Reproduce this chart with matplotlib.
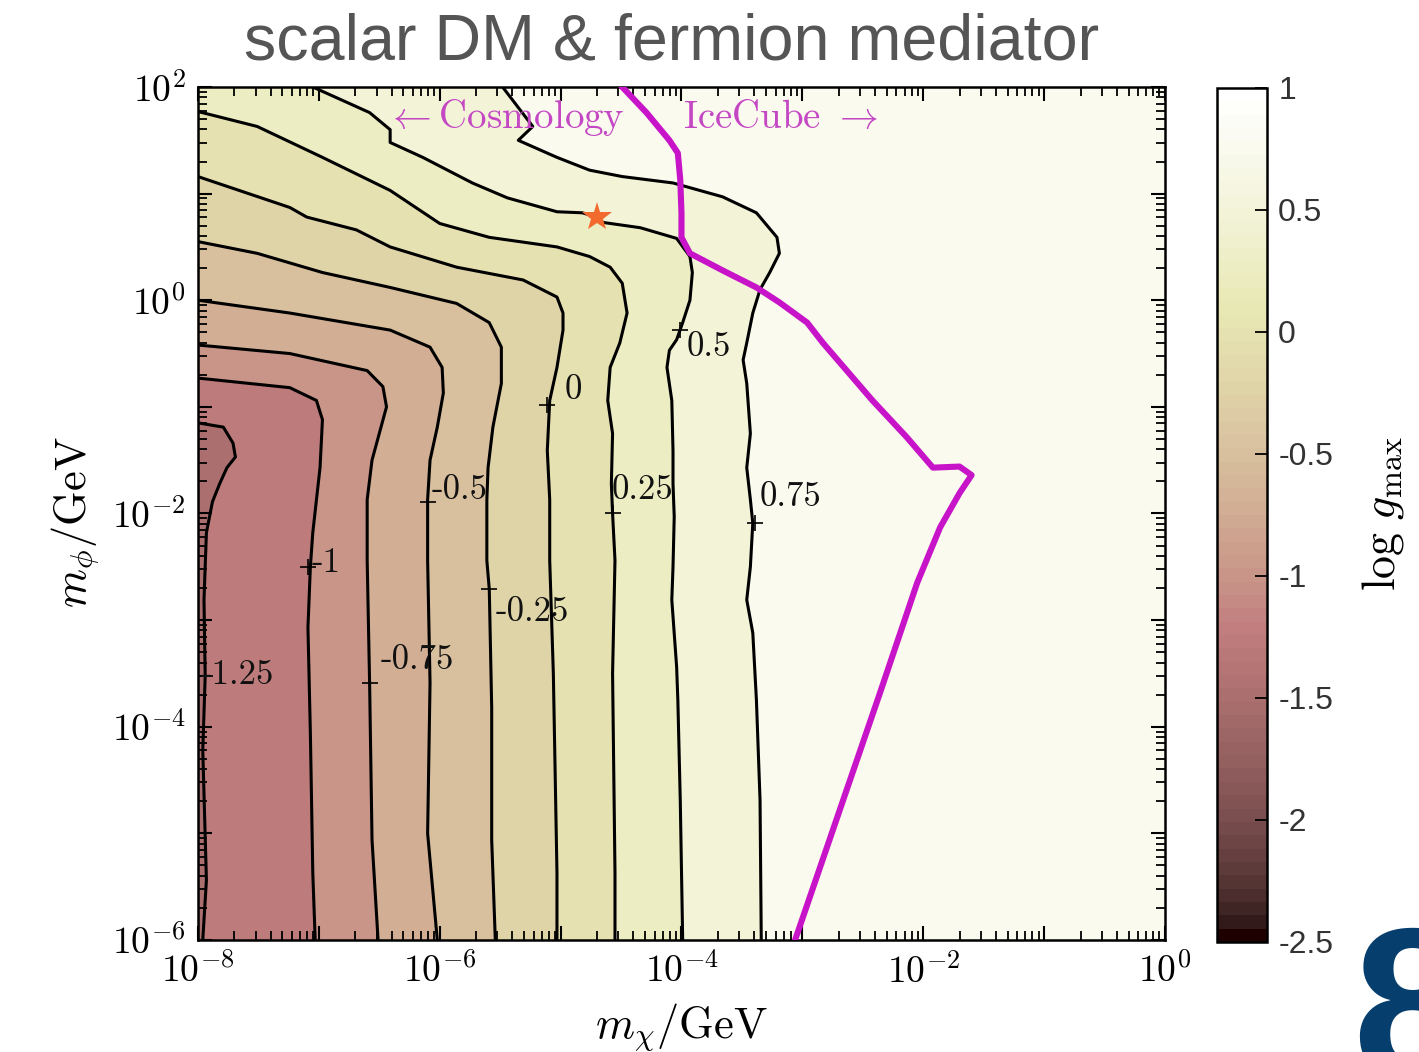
import numpy as np
import matplotlib
matplotlib.use("Agg")
import matplotlib.pyplot as plt
from matplotlib.colors import Normalize
from matplotlib.ticker import FixedLocator, FuncFormatter, NullFormatter
import matplotlib.cm as cm

plt.rcParams['mathtext.fontset'] = 'cm'

# contour levels of log g_max, traced paths in (log10 m_chi, log10 m_phi)
levels = [0.75, 0.5, 0.25, 0.0, -0.25, -0.5, -0.75, -1.0, -1.25]

c075_x = [-5.48, -5.23, -5.35, -5.03, -4.76, -4.49, -4.07, -3.66, -3.38, -3.21, -3.19, -3.27,
          -3.35, -3.41, -3.46, -3.49, -3.46, -3.43, -3.46, -3.43, -3.41, -3.43, -3.46, -3.41,
          -3.38, -3.35, -3.34]
c075_y = [2.0, 1.63, 1.50, 1.34, 1.22, 1.16, 1.10, 0.97, 0.82, 0.59, 0.44, 0.26,
          0.10, -0.12, -0.40, -0.56, -0.78, -1.25, -1.57, -1.87, -2.09, -2.50, -2.81, -3.12,
          -3.75, -4.69, -6.0]

c050_x = [-7.05, -6.58, -6.41, -6.41, -6.14, -5.73, -5.44, -5.03, -4.82, -4.70, -4.65, -4.34,
          -4.04, -3.93, -3.91, -3.93, -3.99, -4.04, -4.10, -4.12, -4.08, -4.07, -4.07, -4.06,
          -4.07, -4.08, -4.04, -4.03, -4.01, -3.99]
c050_y = [2.0, 1.76, 1.60, 1.48, 1.34, 1.10, 0.96, 0.83, 0.82, 0.78, 0.73, 0.68,
          0.58, 0.41, 0.26, 0.00, -0.21, -0.37, -0.47, -0.63, -0.94, -1.41, -1.72, -2.03,
          -2.50, -2.81, -3.44, -3.75, -4.69, -6.0]

c025_x = [-8.0, -7.51, -6.97, -6.41, -6.00, -5.59, -5.03, -4.76, -4.59, -4.49, -4.45, -4.51,
          -4.59, -4.61, -4.57, -4.58, -4.57, -4.55, -4.57, -4.55, -4.55]
c025_y = [1.77, 1.63, 1.34, 1.03, 0.72, 0.59, 0.50, 0.41, 0.31, 0.16, -0.12, -0.40,
          -0.63, -0.94, -1.25, -1.72, -2.00, -2.44, -3.50, -5.37, -6.0]

c000_x = [-8.0, -7.24, -7.10, -6.69, -6.41, -5.86, -5.31, -5.03, -4.98, -4.98, -5.03, -5.09,
          -5.11, -5.09, -5.09, -5.06, -5.03, -5.03]
c000_y = [1.16, 0.87, 0.78, 0.66, 0.50, 0.31, 0.19, 0.03, -0.12, -0.28, -0.63, -0.94,
          -1.41, -1.87, -2.44, -3.50, -5.37, -6.0]

cm025_x = [-8.0, -7.51, -6.97, -6.41, -5.86, -5.59, -5.49, -5.49, -5.56, -5.60, -5.61, -5.61,
           -5.59, -5.57, -5.57, -5.54]
cm025_y = [0.55, 0.44, 0.26, 0.12, -0.03, -0.21, -0.44, -0.78, -1.19, -1.57, -1.87, -2.44,
           -2.71, -3.82, -5.06, -6.0]

cm050_x = [-8.0, -7.24, -6.41, -6.08, -5.98, -5.97, -6.02, -6.08, -6.10, -6.10, -6.08, -6.10, -6.02]
cm050_y = [0.0, -0.12, -0.28, -0.44, -0.63, -0.87, -1.19, -1.50, -1.87, -2.44, -3.59, -5.00, -6.0]

cm075_x = [-8.0, -7.24, -6.60, -6.47, -6.44, -6.50, -6.56, -6.60, -6.60, -6.58, -6.56, -6.51]
cm075_y = [-0.42, -0.50, -0.66, -0.81, -1.00, -1.25, -1.50, -1.87, -2.44, -3.59, -5.06, -6.0]

cm100_x = [-8.0, -7.24, -7.02, -6.97, -6.99, -7.05, -7.07, -7.09, -7.07, -7.05, -7.03]
cm100_y = [-0.73, -0.82, -0.94, -1.12, -1.57, -2.18, -2.50, -3.07, -4.06, -5.37, -6.0]

cm125_x = [-8.0, -7.79, -7.71, -7.69, -7.76, -7.82, -7.88, -7.93, -7.95, -7.94, -7.96, -7.93, -7.96]
cm125_y = [-1.15, -1.19, -1.34, -1.47, -1.57, -1.72, -1.89, -2.18, -2.81, -3.52, -4.22, -5.44, -6.0]

paths = [(c075_x, c075_y), (c050_x, c050_y), (c025_x, c025_y), (c000_x, c000_y),
         (cm025_x, cm025_y), (cm050_x, cm050_y), (cm075_x, cm075_y), (cm100_x, cm100_y),
         (cm125_x, cm125_y)]

# IceCube / cosmology boundary
icecube_x = [-4.49, -4.29, -4.10, -4.03, -4.01, -4.00, -4.00, -3.93, -3.66, -3.38, -3.19, -2.96,
             -2.83, -2.42, -2.14, -1.92, -1.70, -1.60, -1.70, -1.86, -2.05, -2.19, -2.36, -3.06]
icecube_y = [2.0, 1.76, 1.50, 1.38, 1.13, 0.82, 0.59, 0.44, 0.28, 0.12, -0.02, -0.21,
             -0.40, -0.94, -1.28, -1.57, -1.56, -1.64, -1.81, -2.13, -2.65, -3.12, -3.69, -6.0]

# benchmark point
star_x, star_y = -4.70, 0.78

# inline contour labels
label_text = ['0.5', '0', '-0.5', '0.25', '0.75', '-1', '-0.25', '-0.75', '-1.25']
label_mark_x = [-4.01, -5.11, -6.10, -4.57, -3.39, -7.09, -5.59, -6.58, -7.94]
label_mark_y = [-0.28, -0.98, -1.89, -2.00, -2.09, -2.50, -2.71, -3.59, -3.52]
label_x = [-3.96, -4.97, -6.07, -4.58, -3.35, -7.06, -5.54, -6.49, -7.98]
label_y = [-0.44, -0.84, -1.78, -1.78, -1.85, -2.47, -2.93, -3.38, -3.52]

cbar_ticks = [1, 0.5, 0, -0.5, -1, -1.5, -2, -2.5]
cbar_labels = ['1', '0.5', '0', '-0.5', '-1', '-1.5', '-2', '-2.5']

cmap = plt.get_cmap('pink', 64)
norm = Normalize(vmin=-2.5, vmax=1.0)

fig = plt.figure(figsize=(14.19, 10.52), dpi=100)
ax = fig.add_axes([0.1395, 0.1065, 0.6815, 0.8108])
cax = fig.add_axes([0.8577, 0.1046, 0.0352, 0.8118])

ax.set_xscale('log')
ax.set_yscale('log')
ax.set_axisbelow(False)

# filled bands, painted from the outermost level inwards
ax.set_facecolor(cmap(norm(levels[0])))
for lev, (lx, ly) in zip(levels, paths):
    px = list(lx) + [-8.0, -8.0]
    py = list(ly) + [-6.0, ly[0]]
    ax.fill(10.0 ** np.array(px), 10.0 ** np.array(py), color=cmap(norm(lev - 0.25)),
            lw=0, zorder=1)
for lx, ly in paths:
    ax.plot(10.0 ** np.array(lx), 10.0 ** np.array(ly), color='black', lw=2.2,
            solid_joinstyle='round', zorder=2)

for t, mx, my, tx, ty in zip(label_text, label_mark_x, label_mark_y, label_x, label_y):
    ax.plot(10.0 ** mx, 10.0 ** my, marker='+', color='black', ms=11, mew=1.2, zorder=3)
    ax.text(10.0 ** tx, 10.0 ** ty, t, family='cmr10', fontsize=25, ha='left', va='center',
            color='#111111', zorder=3)

ax.plot(10.0 ** np.array(icecube_x), 10.0 ** np.array(icecube_y), color='#c814c8', lw=4.4,
        solid_joinstyle='round', zorder=4)
ax.plot(10.0 ** star_x, 10.0 ** star_y, marker='*', color='#f26a2e', ms=22, mew=0, zorder=5)

ax.text(10.0 ** -4.47, 10.0 ** 1.71, r'${\leftarrow}$Cosmology', family='cmr10', fontsize=28,
        color='#c447c4', ha='right', va='center', zorder=5)
ax.text(10.0 ** -3.99, 10.0 ** 1.71, r'IceCube ${\rightarrow}$', family='cmr10', fontsize=28,
        color='#c447c4', ha='left', va='center', zorder=5)

ax.set_xlim(1e-8, 1)
ax.set_ylim(1e-6, 1e2)

def even_decade(v, pos):
    e = int(round(np.log10(v)))
    return r'$10^{%d}$' % e if e % 2 == 0 else ''

x_decades = list(range(-8, 1))
y_decades = list(range(-6, 3))
mantissas = (2, 3, 4, 5, 6, 7, 8, 9)
ax.xaxis.set_major_locator(FixedLocator([10.0 ** k for k in x_decades]))
ax.yaxis.set_major_locator(FixedLocator([10.0 ** k for k in y_decades]))
ax.xaxis.set_minor_locator(FixedLocator([m * 10.0 ** k for k in x_decades[:-1] for m in mantissas]))
ax.yaxis.set_minor_locator(FixedLocator([m * 10.0 ** k for k in y_decades[:-1] for m in mantissas]))
for axis in (ax.xaxis, ax.yaxis):
    axis.set_major_formatter(FuncFormatter(even_decade))
    axis.set_minor_formatter(NullFormatter())

ax.tick_params(which='both', direction='in', top=True, right=True, color='black')
ax.tick_params(which='major', length=10, width=1.5, labelsize=27)
ax.tick_params(which='minor', length=6.5, width=1.3)
ax.tick_params(axis='x', which='major', pad=10)
ax.tick_params(axis='y', which='major', pad=9)
for sp in ax.spines.values():
    sp.set_linewidth(1.8)

ax.set_xlabel(r'$m_\chi/\mathrm{GeV}$', fontsize=32)
ax.xaxis.set_label_coords(0.5, -0.072)
ax.set_ylabel(r'$m_\phi/\mathrm{GeV}$', fontsize=32)
ax.yaxis.set_label_coords(-0.1, 0.49)

sm = cm.ScalarMappable(norm=norm, cmap=cmap)
cb = fig.colorbar(sm, cax=cax)
cb.set_ticks(cbar_ticks)
cb.set_ticklabels(cbar_labels)
cb.outline.set_linewidth(1.8)
cax.tick_params(direction='in', length=9, width=1.3, labelsize=23, pad=8, labelcolor='#333333')
for lab in cax.get_yticklabels():
    lab.set_family(['Liberation Sans', 'DejaVu Sans'])
fig.text(1383 / 1419, 1 - 513 / 1052, r'$\log\,g_{\max}$', fontsize=33, rotation=90,
         ha='center', va='center')

fig.text(672 / 1419, 1 - 42 / 1052, 'scalar DM & fermion mediator', fontsize=46.5,
         color='#555555', family=['Liberation Sans', 'DejaVu Sans'], ha='center', va='center')

# slide number peeking in at the corner
fig.text(1352 / 1419, 1 - 922 / 1052, '8', fontsize=155, fontweight='bold', color='#063f6d',
         family=['Liberation Sans', 'DejaVu Sans'], ha='left', va='top')

fig.savefig('out.png', dpi=100)
